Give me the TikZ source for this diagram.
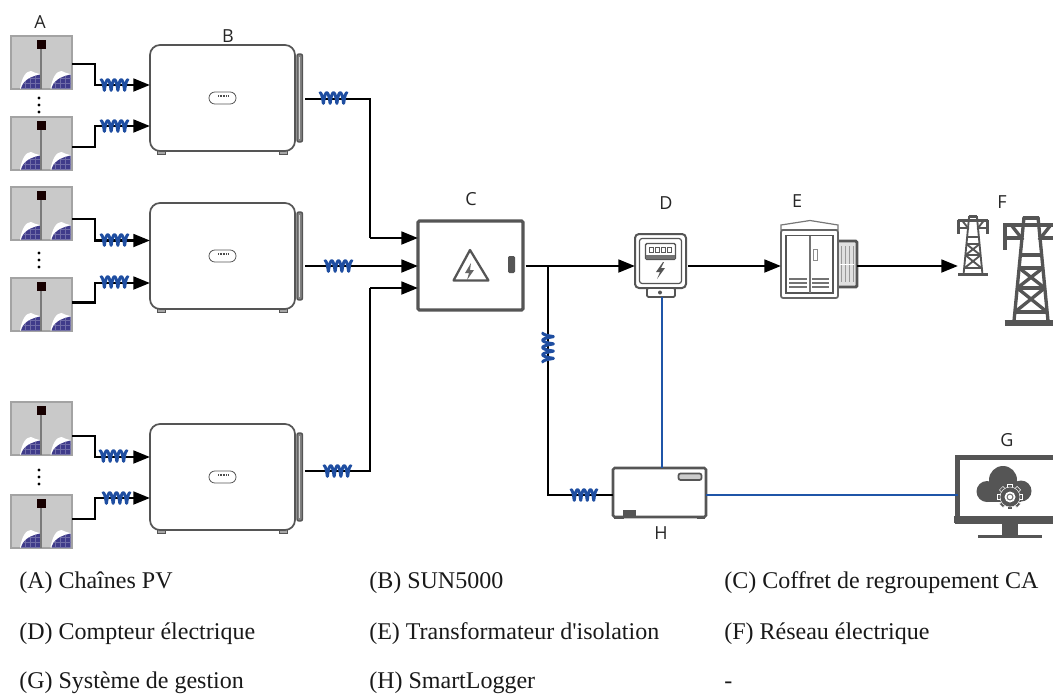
\documentclass[tikz,border=0pt]{standalone}
\usepackage{fontspec}
\setmainfont{Liberation Serif}[Ligatures=TeXOff]
\newfontfamily\lblfont{Open Sans}
\usetikzlibrary{arrows.meta,calc}
\definecolor{dk}{HTML}{555555}
\definecolor{coilblue}{HTML}{1F4EA1}
\definecolor{commblue}{HTML}{1F55A8}
\definecolor{pvgray}{HTML}{C9C9C9}
\definecolor{pvedge}{HTML}{A3A3A3}
\definecolor{pvblue}{HTML}{3F3B8A}
\def\pxu{0.75pt}
\tikzset{
  wire/.style={line width=2.1pt,black,line join=miter},
  arrowwire/.style={wire,-{Triangle[length=12.5pt,width=9.5pt]}},
  commwire/.style={line width=2.1pt,commblue},
  coilline/.style={line width=2.2pt,coilblue,line join=round,line cap=round},
  box/.style={inner sep=0pt,outer sep=0pt,anchor=north west},
  inverterbox/.style={box,draw=dk,line width=1.3pt,fill=white,rounded corners=7.5pt,minimum width=145*\pxu,minimum height=106*\pxu},
  pvbox/.style={box,draw=pvedge,line width=0.9pt,fill=pvgray,minimum width=61*\pxu,minimum height=53*\pxu},
  letter/.style={font=\lblfont\fontsize{13.5}{16}\selectfont,text=black!85,inner sep=0pt},
  caption/.style={font=\fontsize{18}{21}\selectfont,anchor=base west,inner sep=0pt,text=black!90},
}
% solar panel half
\newcommand\pvcell[1]{%
  \begin{scope}[xshift=#1*\pxu]
    \fill[white] (9,52.5) .. controls (11,41) and (15,35) .. (20,35) .. controls (23,36) and (26,38) .. (29,38) -- (29,52.5) -- cycle;
    \begin{scope}
      \clip (10,52.5) .. controls (12,45) and (18,41) .. (29,38.5) -- (29,52.5) -- cycle;
      \fill[pvblue] (8,36) rectangle (30,54);
      \foreach \gx in {14,19,24} \draw[white!25!pvblue,line width=0.25pt] (\gx,36) -- (\gx,54);
      \foreach \gy in {42,47} \draw[white!25!pvblue,line width=0.25pt] (8,\gy) -- (30,\gy);
    \end{scope}
  \end{scope}}
\newcommand\pvpanel[3]{%
  \node[pvbox] (#1) at (#2,#3) {};
  \begin{scope}[shift={(#2,#3)}]
    \pvcell{0}\pvcell{30.5}
    \fill[black!52] (29.3,10) rectangle (31.3,53);
    \fill[black!85!red!60!black] (26,4) rectangle (35,13);
  \end{scope}}
\newcommand\invr[3]{%
  \begin{scope}[shift={(#2,#3)}]
    \foreach \fx in {7,129} \draw[dk,line width=0.6pt,fill=black!35] (\fx,104) rectangle ++(8,5);
    \draw[dk,line width=1.1pt,fill=black!50,rounded corners=1.5pt] (147,9) rectangle (152.5,97);
    \fill[black!15] (148.6,12) rectangle (149.8,94);
  \end{scope}
  \node[inverterbox] (#1) at (#2,#3) {};
  \begin{scope}[shift={(#2,#3)}]
    \draw[dk,line width=0.6pt,fill=white,rounded corners=4.4pt] (59,47) rectangle (86,59);
    \draw[black!70,line width=0.8pt,dash pattern=on 0.6pt off 0.6pt] (68,51) -- (78,51);
  \end{scope}}
% coil #1,#2 start point, #3 rotation, #4 length
\newcommand\coil[4]{%
  \draw[coilline,shift={(#1,#2)},rotate=#3] plot[variable=\t,domain=0:1,samples=80]
    ({#4*\t+0.75*sin(4*360*\t)},{-5.3*cos(4*360*\t)});}
\newcommand\pvwire[4]{% panel, y offset, junction name, junction y
  \coordinate (#3) at (95,#4);
  \draw[arrowwire] ($(#1.east)+(0,#2)$) -| (#3) -- (#3 -| \invname.west);}
\newcommand\ellip[1]{\foreach \dy in {0,7,14} \fill[black] (39,#1+\dy) circle (1.7);}
\newcommand\tower[4]{% x,y,scale,line width
  \begin{scope}[shift={(#1,#2)},scale=#3,draw=dk,line width=#4,line cap=butt]
    \draw[line width=1.2*#4] (20,2.5) -- (36,2.5);
    \draw (11,106) -- (21,2) (45,106) -- (35,2);
    \draw[line width=1.2*#4] (0,10) -- (56,10);
    \draw[line width=1.3*#4] (2,9) -- (2,35) (54,9) -- (54,35);
    \draw (2,23) -- (19,23) (54,23) -- (37,23);
    \draw (9,11) -- (20,25) (47,11) -- (36,25);
    \foreach \by/\bl/\br in {40/17.4/38.6,53/16.1/39.9,73/14.2/41.8,97/11.9/44.1} \draw (\bl,\by) -- (\br,\by);
    \draw (16.1,53) -- (41.8,73) (39.9,53) -- (14.2,73);
    \draw (14.2,73) -- (44.1,97) (41.8,73) -- (11.9,97);
    \draw[line width=1.6*#4] (1.5,108) -- (56,108);
  \end{scope}}
\begin{document}
\begin{tikzpicture}[x=0.75pt,y=-0.75pt]
\useasboundingbox (0,0) rectangle (1053,693);
\clip (0,0) rectangle (1053,693);
% PV strings
\pvpanel{p1}{11}{36}
\pvpanel{p2}{11}{117}
\pvpanel{p3}{11}{187}
\pvpanel{p4}{11}{278}
\pvpanel{p5}{11}{402}
\pvpanel{p6}{11}{495}
\ellip{98}\ellip{253}\ellip{470}
% inverters
\invr{inv1}{150}{45}
\invr{inv2}{150}{203}
\invr{inv3}{150}{424}
% C
\node[box,draw=dk,line width=2.4pt,fill=white,rounded corners=1pt,minimum width=105*\pxu,minimum height=89*\pxu] (cbox) at (418,221) {};
\draw[dk,line width=1.7pt,line join=round] (470,250) -- (453.5,280.5) -- (488.5,280.5) -- cycle;
\fill[black!60] (471,263) -- (465,273) -- (469,273) -- (467,280) -- (474,270) -- (470,270) -- cycle;
\fill[dk,rounded corners=1pt] (508,256) rectangle (515,273);
% D
\node[box,draw=dk,line width=1.5pt,fill=white,rounded corners=3pt,minimum width=51*\pxu,minimum height=54*\pxu] (dbox) at (635,234) {};
\draw[dk,line width=0.9pt,rounded corners=2pt] (639.5,238.5) rectangle (681.5,283.5);
\draw[dk,line width=1.1pt,fill=white,rounded corners=1pt] (645.5,243.5) rectangle (675.5,259.5);
\fill[black!55] (646,255) rectangle (675,259);
\foreach \mx in {651,657,663,669} \draw[black!65,line width=0.5pt] (\mx-2,247) rectangle (\mx+2,252);
\fill[dk] (663,262) -- (656,272) -- (660,272) -- (657,279) -- (665,268) -- (661,268) -- (664,262) -- cycle;
\node[box,draw=dk,line width=1.3pt,fill=white,rounded corners=1pt,minimum width=28*\pxu,minimum height=9*\pxu] (dbase) at (647,288) {};
\fill[dk] (660,292.5) circle (2);
% E
\fill[white,draw=dk!80,line width=0.9pt] (781,225) -- (810,220.5) -- (838,225) -- (838,230) -- (781,230) -- cycle;
\node[box,draw=dk,line width=2.2pt,fill=black!12,rounded corners=1pt,minimum width=24*\pxu,minimum height=46*\pxu] (eside) at (833,241) {};
\foreach \ex in {841,845,849,853} \draw[black!40,line width=0.4pt] (\ex,246) -- (\ex,282);
\draw[white,line width=0.6pt] (840,264) -- (854,264);
\node[box,draw=black!60,line width=1.3pt,fill=white,rounded corners=1.5pt,minimum width=57*\pxu,minimum height=68*\pxu] (ebox) at (781,230) {};
\draw[dk,line width=1.4pt] (786,235.5) rectangle (833,293);
\draw[black!55,line width=0.9pt] (810,236) -- (810,293);
\draw[black!45,line width=0.7pt] (813,249) rectangle (817,260);
\foreach \ey in {279,283,287} {\draw[black!55,line width=1.3pt] (789,\ey) -- (807,\ey); \draw[black!55,line width=1.3pt] (812,\ey) -- (829,\ey);}
% F
\tower{957.6}{215}{0.55}{1.4pt}
\tower{1003}{215}{1}{2.5pt}
\coordinate (fin) at (958,266);
\node[box,minimum width=95*\pxu,minimum height=110*\pxu] (fgrid) at (958,215) {};
% H
\fill[dk] (614,515) rectangle (624,518.5);
\fill[dk] (697,515) rectangle (705,518.5);
\node[box,draw=dk,line width=1.9pt,fill=white,rounded corners=1.2pt,minimum width=93*\pxu,minimum height=49*\pxu] (hbox) at (613,468) {};
\draw[dk,line width=1.3pt,fill=black!20,rounded corners=1.5pt] (678.5,473.5) rectangle (701.5,480);
\fill[dk] (623,509.5) rectangle (636,516);
% G
\node[box,draw=dk,line width=4.2pt,fill=white,minimum width=105*\pxu,minimum height=64*\pxu] (gbox) at (957.5,457.5) {};
\fill[dk] (954,516) rectangle (1053,523);
\fill[dk] (1002,523) rectangle (1018,535);
\fill[dk] (978,535) rectangle (1042,537.5);
\fill[dk] (987,491.5) circle (10.5);
\fill[dk] (1003,480) circle (14);
\fill[dk] (1021,491) circle (10.5);
\fill[dk] (987,488) rectangle (1021,501.5);
\foreach \ga in {0,45,...,315} \fill[dk,draw=white,line width=0.35pt,shift={(1010,497)},rotate=\ga] (-2.5,9) rectangle (2.5,12.5);
\fill[dk,draw=white,line width=0.35pt] (1010,497) circle (10);
\fill[dk] (1010,497) circle (9);
\fill[white] (1010,497) circle (5.5);
\fill[black!55] (1010,497) circle (3.5);
\fill[white] (1010,497) circle (2.2);
% DC strings
\def\invname{inv1}
\pvwire{p1}{1.5}{j1}{85}
\pvwire{p2}{3.5}{j2}{126}
\def\invname{inv2}
\pvwire{p3}{5.5}{j3}{240.5}
\pvwire{p4}{-2}{j4}{283}
\def\invname{inv3}
\pvwire{p5}{7.5}{j5}{457}
\pvwire{p6}{-2.5}{j6}{498}
\coil{101}{85}{0}{27}
\coil{101}{126}{0}{27}
\coil{101}{240}{0}{27}
\coil{101}{282}{0}{27}
\coil{100}{456}{0}{27}
\coil{103}{498}{0}{27}
% AC collection
\coordinate (o1) at (305,99);
\coordinate (o2) at (305,266);
\coordinate (o3) at (305,471);
\coordinate (k1) at (370,238);
\coordinate (k3) at (370,288);
\draw[wire] (o1) -| (k1);
\draw[arrowwire] (k1) -- (k1 -| cbox.west);
\draw[arrowwire] (o2) -- (o2 -| cbox.west);
\draw[wire] (o3) -| (k3);
\draw[arrowwire] (k3) -- (k3 -| cbox.west);
\coil{320}{98}{0}{27}
\coil{325}{266}{0}{27}
\coil{324}{471}{0}{27}
% main line
\coordinate (cout) at (525.5,266);
\coordinate (tap) at (548,266);
\coordinate (hin) at ($(hbox.west)+(0,2.5)$);
\coordinate (hout) at ($(hbox.east)+(0,2.5)$);
\draw[arrowwire] (cout) -- (cout -| dbox.west);
\draw[wire] (tap) |- (hin);
\coil{548}{362}{90}{29}
\coil{571}{495}{0}{26}
\draw[arrowwire] (688,266) -- (688,266 -| ebox.west);
\draw[arrowwire] (eside.east |- cout) -- (fin);
% comms
\draw[commwire] (dbase.south -| 662,0) -- (hbox.north -| 662,0);
\draw[commwire] (hout) -- (hout -| gbox.west);
% letters
\node[letter] (la) at (40,22) {A};
\node[letter] (lb) at (228,36) {B};
\node[letter] (lc) at (471,199) {C};
\node[letter] (ld) at (666,203) {D};
\node[letter] (le) at (797,201) {E};
\node[letter] (lf) at (1002,202) {F};
\node[letter] (lg) at (1007,440) {G};
\node[letter] (lh) at (661,533) {H};
% captions
\node[caption] (c1) at (19,588) {(A) Chaînes PV};
\node[caption] (c2) at (369,588) {(B) SUN5000};
\node[caption] (c3) at (724,588) {(C) Coffret de regroupement CA};
\node[caption] (c4) at (19,639) {(D) Compteur électrique};
\node[caption] (c5) at (369,639) {(E) Transformateur d'isolation};
\node[caption] (c6) at (724,639) {(F) Réseau électrique};
\node[caption] (c7) at (19,688) {(G) Système de gestion};
\node[caption] (c8) at (369,688) {(H) SmartLogger};
\node[caption] (c9) at (724,688) {-};
\end{tikzpicture}
\end{document}
